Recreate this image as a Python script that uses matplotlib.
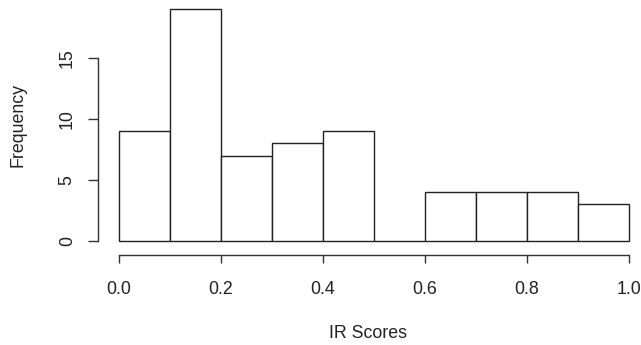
import numpy as np
import matplotlib
matplotlib.use("Agg")
from matplotlib import pyplot as plt

# histogram of IR scores (R style)
bin_edges = [0.0, 0.1, 0.2, 0.3, 0.4, 0.5, 0.6, 0.7, 0.8, 0.9, 1.0]
counts = [9, 19, 7, 8, 9, 0, 4, 4, 4, 3]
x_ticks = [0.0, 0.2, 0.4, 0.6, 0.8, 1.0]
x_tick_labels = ["0.0", "0.2", "0.4", "0.6", "0.8", "1.0"]
y_ticks = [0, 5, 10, 15]

plt.rcParams['font.family'] = ['Liberation Sans', 'DejaVu Sans']

W, H = 641, 345
fig = plt.figure(figsize=(W / 100, H / 100), dpi=100)

# axes area in pixels: x 98..640, y 0..255 (from top)
ax = fig.add_axes([98 / W, (H - 255) / H, (640 - 98) / W, 255 / H])

px_x = 510.0   # pixels per unit on x
px_y = 12.2    # pixels per count on y
ax.set_xlim((98 - 119) / px_x, (640 - 119) / px_x)
ax.set_ylim(-(255 - 241) / px_y, 241 / px_y)

edges = np.array(bin_edges)
ax.bar(edges[:-1], counts, width=np.diff(edges), align='edge',
       facecolor='white', edgecolor='#222222', linewidth=1.0)

lc = '#333333'
for s in ['top', 'right']:
    ax.spines[s].set_visible(False)
ax.spines['left'].set_bounds(0, 15)
ax.spines['bottom'].set_bounds(0, 1)
ax.spines['left'].set_color(lc)
ax.spines['bottom'].set_color(lc)
ax.spines['left'].set_linewidth(1.0)
ax.spines['bottom'].set_linewidth(1.0)

ax.set_xticks(x_ticks)
ax.set_xticklabels(x_tick_labels)
ax.set_yticks(y_ticks)
ax.set_yticklabels([str(v) for v in y_ticks], rotation=90, va='center')

fs = 12.8
ax.tick_params(axis='x', length=6, width=1.0, color=lc, pad=12.5,
               labelsize=fs, labelcolor='#222222')
ax.tick_params(axis='y', length=7, width=1.0, color=lc, pad=9,
               labelsize=fs, labelcolor='#222222')

fig.text(18 / W, 1 - 125 / H, 'Frequency', rotation=90, ha='center',
         va='center', fontsize=fs, color='#222222')
fig.text(368 / W, 1 - 333 / H, 'IR Scores', ha='center', va='center',
         fontsize=fs, color='#222222')

fig.savefig('out.png', dpi=100)
